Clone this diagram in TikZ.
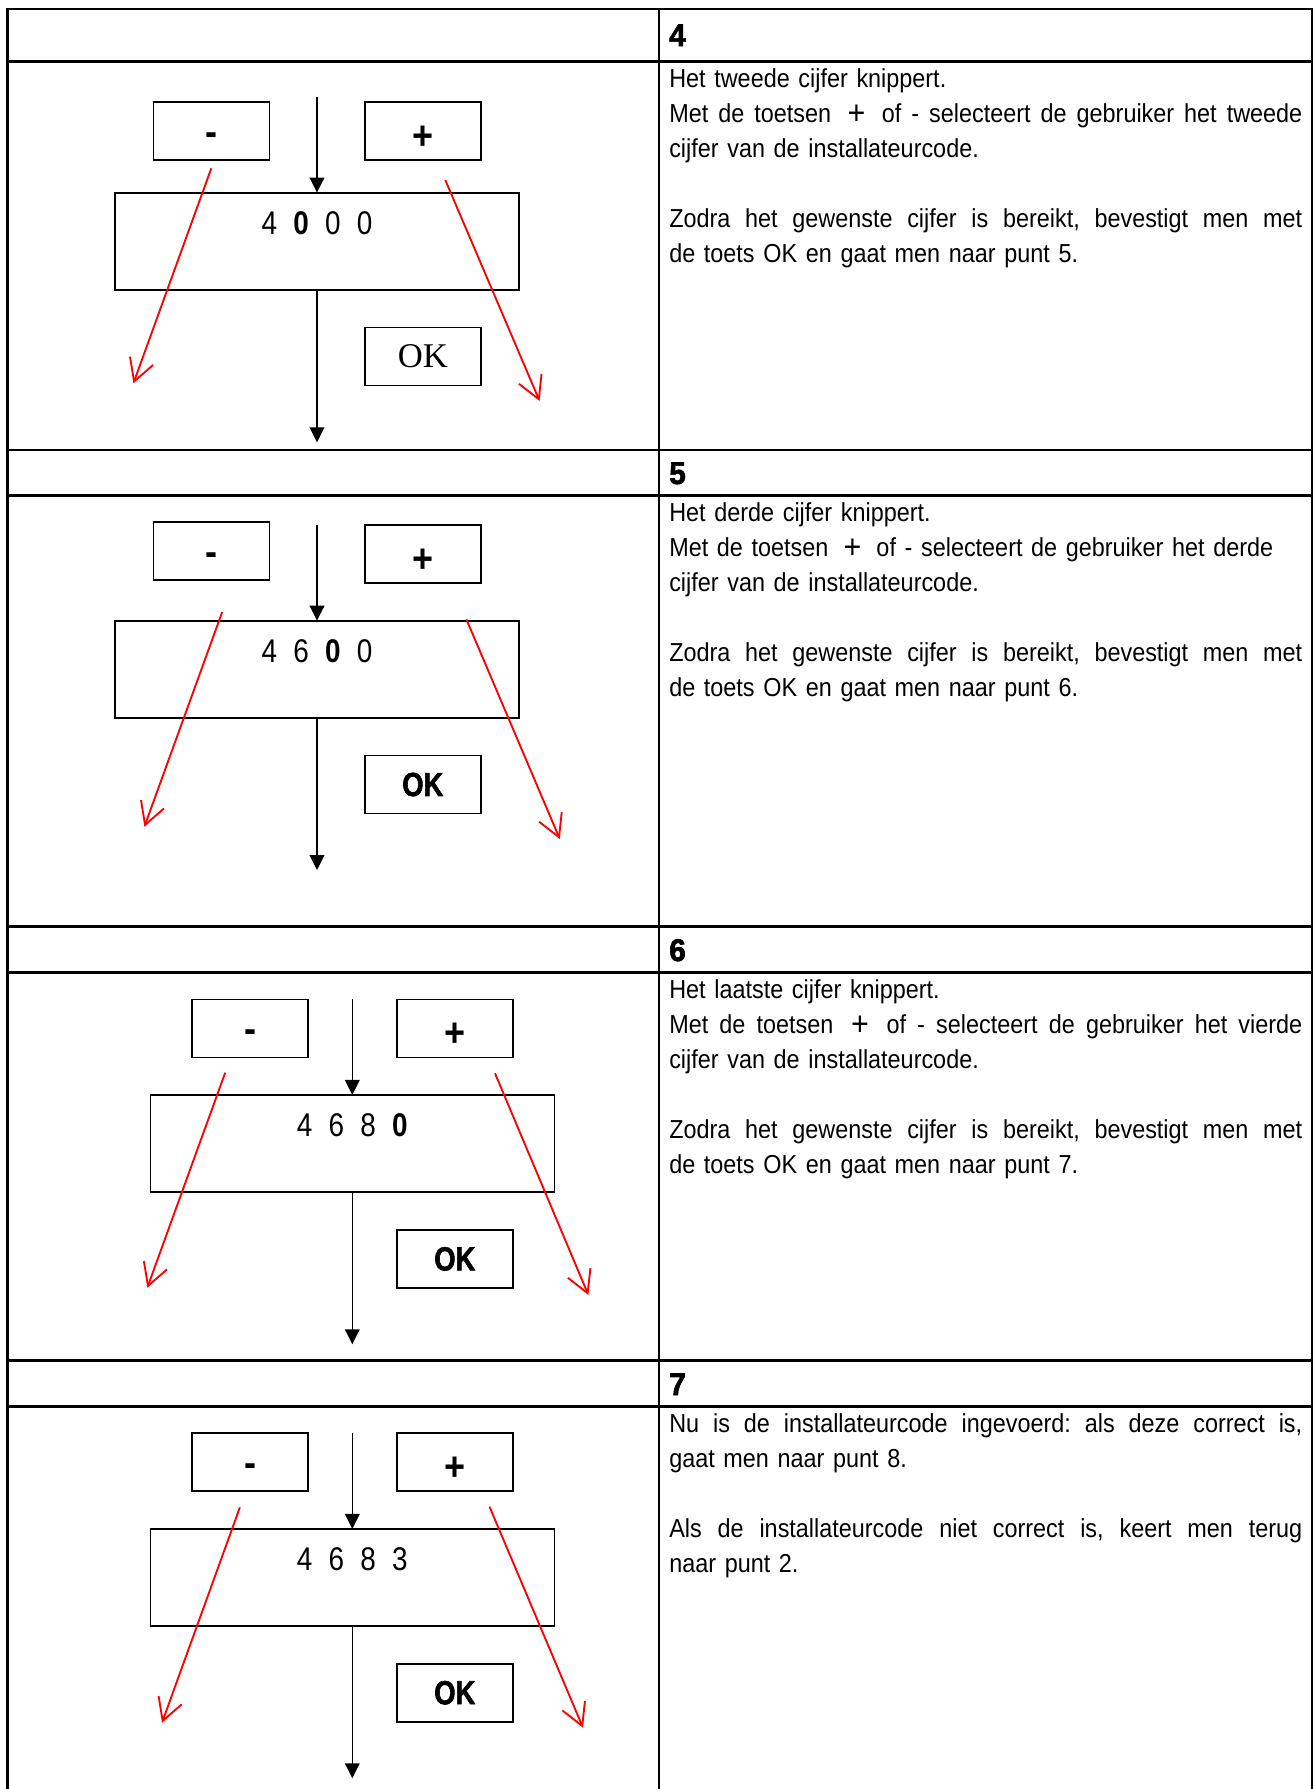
\documentclass[tikz,border=0pt]{standalone}
\usepackage{fontspec}
\usepackage{graphicx}
\setmainfont[FakeStretch=0.9]{Liberation Sans}
\newfontfamily\condfont[FakeStretch=0.85]{Liberation Sans}
\newfontfamily\numheavy[FakeStretch=0.95,FakeBold=2]{Liberation Sans Bold}
\newfontfamily\okheavy[FakeStretch=0.82,FakeBold=1.8]{Liberation Sans Bold}
\newfontfamily\serifkey{Liberation Serif}
\usetikzlibrary{arrows.meta,calc}

% fonts used in the sheet
\newcommand\bodyfont{\frenchspacing\fontsize{19.5pt}{26.25pt}\selectfont}
\newcommand\headfont{\numheavy\fontsize{23.5pt}{26pt}\selectfont}
\newcommand\dispfont{\condfont\fontsize{24.6pt}{28pt}\selectfont}
\newcommand\okfont{\okheavy\fontsize{25pt}{28pt}\selectfont}
\newcommand\keyfont{\bfseries\fontsize{30pt}{32pt}\selectfont}
% one digit cell of the display, a fully justified text line, a spaced plus sign
\newcommand\dg[1]{\makebox[23.8pt]{#1}}
\newcommand\jl[1]{{\spaceskip=0pt\xspaceskip=0pt\makebox[474.75pt][s]{#1}}}
\newcommand\pl{\hspace{0.25em}\raisebox{-0.08em}{\scalebox{1.3}{+}}\hspace{0.25em}}

\tikzset{
  tline/.style={line width=2pt},
  keybox/.style={draw, line width=1.2pt, minimum width=87pt, minimum height=43.5pt, inner sep=0pt, outer sep=0pt},
  dispbox/.style={draw, line width=1.2pt, minimum width=303pt, minimum height=72.75pt, inner sep=0pt, outer sep=0pt},
  keysym/.style={anchor=base, inner sep=0pt, font=\keyfont},
  oklabel/.style={inner sep=0pt, font=\okfont},
  digits/.style={anchor=base, inner sep=0pt, font=\dispfont},
  headnum/.style={anchor=base west, inner sep=0pt, font=\headfont},
  body/.style={anchor=base west, inner sep=0pt, text width=474.75pt, align=left, font=\bodyfont},
  flow/.style={line width=1.1pt, -{Triangle[length=11.25pt,width=11pt]}},
  redarr/.style={red, line width=1.4pt, -{Straight Barb[length=16.5pt,width=18.4pt]}}
}

\begin{document}
\begin{tikzpicture}[x=0.75pt, y=-0.75pt]
\useasboundingbox (0,0) rectangle (1315,1789);

% ---- table grid ----
\draw[tline] (7.5,1789) -- (7.5,9) -- (1312,9) -- (1312,1789);
\draw[tline] (659,9) -- (659,1789);
\foreach \yy in {61.7,450,495.7,926.7,972.7,1360.7,1406.7}
  \draw[tline] (7.5,\yy) -- (1312,\yy);

% ---- step numbers ----
\node[headnum] (h4) at (669,46) {4};
\node[headnum] (h5) at (669,484) {5};
\node[headnum] (h6) at (669,961) {6};
\node[headnum] (h7) at (669,1395) {7};

% ---- step 4 ----
\node[keybox] (m4) at (211.5,131.2) {};
\node[keysym] (m4s) at ($(m4.center)+(0,14)$) {-};
\node[keybox] (p4) at (422.8,131.2) {};
\node[keysym] (p4s) at ($(p4.center)+(0,18)$) {+};
\node[dispbox] (d4) at (317,241.2) {};
\node[digits] (d4t) at ($(d4.north)+(0,42)$) {\dg{4}\dg{\bfseries 0}\dg{0}\dg{0}};
\node[keybox] (k4) at (422.8,356.5) {};
\node[inner sep=0pt, font=\serifkey\fontsize{26pt}{28pt}\selectfont] (k4t) at (k4.center) {OK};
\coordinate (a4) at (317,96.7);
\coordinate (b4) at (317,442.3);
\draw[flow] (a4) -- (d4.north);
\draw[flow] (d4.south) -- (b4);
\coordinate (rl4s) at (211.3,168.3); \coordinate (rl4e) at (133.4,383.3);
\coordinate (rr4s) at (445.3,180);   \coordinate (rr4e) at (539.6,401);
\draw[redarr] (rl4s) -- (rl4e);
\draw[redarr] (rr4s) -- (rr4e);

\node[body] (t4) at (669,87.3) {Het tweede cijfer knippert.\\
\jl{Met de toetsen \pl{} of - selecteert de gebruiker het tweede}\\
cijfer van de installateurcode.\\
~\\
\jl{Zodra het gewenste cijfer is bereikt, bevestigt men met}\\
de toets OK en gaat men naar punt 5.};

% ---- step 5 ----
\node[keybox] (m5) at (211.5,551) {};
\node[keysym] (m5s) at ($(m5.center)+(0,14)$) {-};
\node[keybox] (p5) at (422.8,554.2) {};
\node[keysym] (p5s) at ($(p5.center)+(0,18)$) {+};
\node[dispbox] (d5) at (317,669.2) {};
\node[digits] (d5t) at ($(d5.north)+(0,42)$) {\dg{4}\dg{6}\dg{\bfseries 0}\dg{0}};
\node[keybox] (k5) at (422.8,784.5) {};
\node[oklabel] (k5t) at (k5.center) {OK};
\coordinate (a5) at (317,525);
\coordinate (b5) at (317,870);
\draw[flow] (a5) -- (d5.north);
\draw[flow] (d5.south) -- (b5);
\coordinate (rl5s) at (222.2,612);   \coordinate (rl5e) at (144.4,826.7);
\coordinate (rr5s) at (466.4,619.3); \coordinate (rr5e) at (559.8,839);
\draw[redarr] (rl5s) -- (rl5e);
\draw[redarr] (rr5s) -- (rr5e);

\node[body] (t5) at (669,521.3) {Het derde cijfer knippert.\\
Met de toetsen \pl{} of - selecteert de gebruiker het derde\\
cijfer van de installateurcode.\\
~\\
\jl{Zodra het gewenste cijfer is bereikt, bevestigt men met}\\
de toets OK en gaat men naar punt 6.};

% ---- step 6 ----
\node[keybox] (m6) at (250,1028.3) {};
\node[keysym] (m6s) at ($(m6.center)+(0,14)$) {-};
\node[keybox] (p6) at (454.8,1028.3) {};
\node[keysym] (p6s) at ($(p6.center)+(0,18)$) {+};
\node[dispbox] (d6) at (352.3,1143.4) {};
\node[digits] (d6t) at ($(d6.north)+(0,42)$) {\dg{4}\dg{6}\dg{8}\dg{\bfseries 0}};
\node[keybox] (k6) at (454.8,1258.9) {};
\node[oklabel] (k6t) at (k6.center) {OK};
\coordinate (a6) at (352.3,999.3);
\coordinate (b6) at (352.3,1344.3);
\draw[flow] (a6) -- (d6.north);
\draw[flow] (d6.south) -- (b6);
\coordinate (rl6s) at (225.2,1072.7); \coordinate (rl6e) at (147.3,1287.7);
\coordinate (rr6s) at (495,1073.3);   \coordinate (rr6e) at (588.4,1295);
\draw[redarr] (rl6s) -- (rl6e);
\draw[redarr] (rr6s) -- (rr6e);

\node[body] (t6) at (669,998.3) {Het laatste cijfer knippert.\\
\jl{Met de toetsen \pl{} of - selecteert de gebruiker het vierde}\\
cijfer van de installateurcode.\\
~\\
\jl{Zodra het gewenste cijfer is bereikt, bevestigt men met}\\
de toets OK en gaat men naar punt 7.};

% ---- step 7 ----
\node[keybox] (m7) at (250,1462) {};
\node[keysym] (m7s) at ($(m7.center)+(0,14)$) {-};
\node[keybox] (p7) at (454.8,1462) {};
\node[keysym] (p7s) at ($(p7.center)+(0,18)$) {+};
\node[dispbox] (d7) at (352.3,1577.4) {};
\node[digits] (d7t) at ($(d7.north)+(0,42)$) {\dg{4}\dg{6}\dg{8}\dg{3}};
\node[keybox] (k7) at (454.8,1692.7) {};
\node[oklabel] (k7t) at (k7.center) {OK};
\coordinate (a7) at (352.3,1433);
\coordinate (b7) at (352.3,1778.3);
\draw[flow] (a7) -- (d7.north);
\draw[flow] (d7.south) -- (b7);
\coordinate (rl7s) at (239.9,1507.3); \coordinate (rl7e) at (162,1722.7);
\coordinate (rr7s) at (489.5,1506.7); \coordinate (rr7e) at (583,1727.7);
\draw[redarr] (rl7s) -- (rl7e);
\draw[redarr] (rr7s) -- (rr7e);

\node[body] (t7) at (669,1432.3) {\jl{Nu is de installateurcode ingevoerd: als deze correct is,}\\
gaat men naar punt 8.\\
~\\
\jl{Als de installateurcode niet correct is, keert men terug}\\
naar punt 2.};

\end{tikzpicture}
\end{document}
